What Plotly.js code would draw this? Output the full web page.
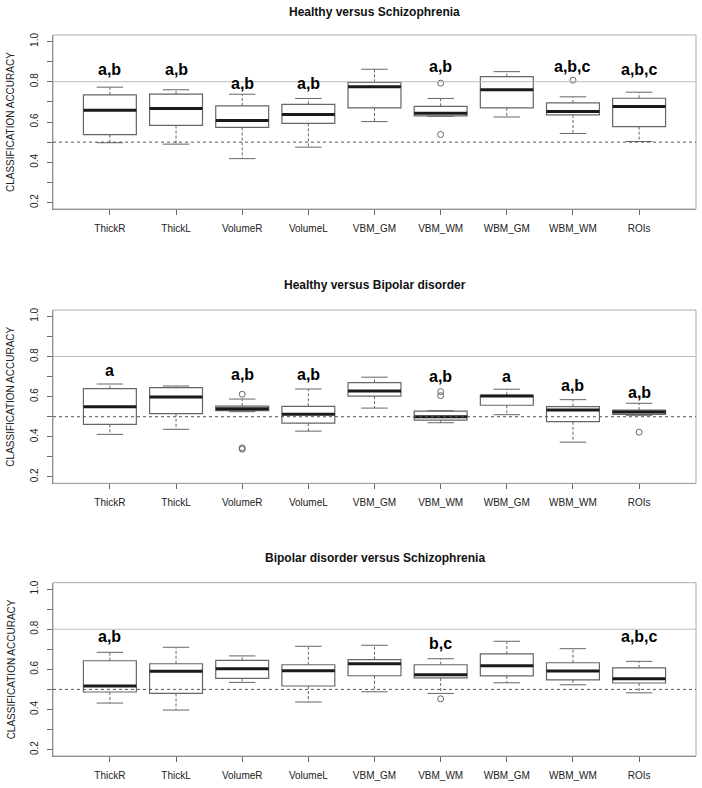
<!DOCTYPE html>
<html>
<head>
<meta charset="utf-8">
<script src="https://cdn.plot.ly/plotly-3.0.1.min.js"></script>
<style>html,body{margin:0;padding:0;background:#fff}#chart{width:702px;height:788px}</style>
</head>
<body>
<div id="chart"></div>
<script>
const categories = ['ThickR','ThickL','VolumeR','VolumeL','VBM_GM','VBM_WM','WBM_GM','WBM_WM','ROIs'];
const panelTitles = ['Healthy versus Schizophrenia','Healthy versus Bipolar disorder','Bipolar disorder versus Schizophrenia'];
const yTickVals = [0.2,0.3,0.4,0.5,0.6,0.7,0.8,0.9,1.0];
const yTickText = ['0.2','','0.4','','0.6','','0.8','','1.0'];
const chanceLevel = 0.5;
const referenceLevel = 0.8;

// Panel 1: Healthy versus Schizophrenia
const hsLower  = [0.497,0.490,0.418,0.475,0.602,0.628,0.625,0.543,0.503];
const hsQ1     = [0.537,0.583,0.573,0.593,0.670,0.630,0.670,0.635,0.577];
const hsMedian = [0.658,0.667,0.608,0.637,0.775,0.643,0.760,0.652,0.677];
const hsQ3     = [0.735,0.738,0.680,0.688,0.797,0.678,0.825,0.695,0.718];
const hsUpper  = [0.773,0.760,0.738,0.717,0.862,0.717,0.850,0.725,0.748];
const hsOutCat = ['VBM_WM','VBM_WM','WBM_WM'];
const hsOutVal = [0.793,0.538,0.808];
const hsLetters = ['a,b','a,b','a,b','a,b','','a,b','','a,b,c','a,b,c'];
const hsLetterY = [0.863,0.863,0.789,0.789,null,0.875,null,0.875,0.863];

// Panel 2: Healthy versus Bipolar disorder
const hbLower  = [0.412,0.437,0.525,0.428,0.543,0.470,0.510,0.373,0.507];
const hbQ1     = [0.462,0.515,0.530,0.468,0.603,0.483,0.557,0.475,0.512];
const hbMedian = [0.550,0.598,0.540,0.512,0.628,0.500,0.603,0.533,0.523];
const hbQ3     = [0.640,0.645,0.553,0.552,0.670,0.528,0.607,0.550,0.533];
const hbUpper  = [0.663,0.653,0.588,0.638,0.697,0.530,0.637,0.585,0.567];
const hbOutCat = ['VolumeR','VolumeR','VolumeR','VBM_WM','VBM_WM','ROIs'];
const hbOutVal = [0.612,0.345,0.338,0.625,0.605,0.423];
const hbLetters = ['a','','a,b','a,b','','a,b','a','a,b','a,b'];
const hbLetterY = [0.732,null,0.708,0.708,null,0.698,0.698,0.657,0.620];

// Panel 3: Bipolar disorder versus Schizophrenia
const bsLower  = [0.432,0.397,0.535,0.437,0.488,0.480,0.533,0.523,0.483];
const bsQ1     = [0.487,0.480,0.555,0.517,0.568,0.557,0.567,0.548,0.532];
const bsMedian = [0.517,0.590,0.603,0.593,0.628,0.573,0.618,0.592,0.553];
const bsQ3     = [0.643,0.628,0.645,0.623,0.648,0.623,0.677,0.633,0.607];
const bsUpper  = [0.685,0.710,0.667,0.715,0.720,0.653,0.740,0.703,0.640];
const bsOutCat = ['VBM_WM'];
const bsOutVal = [0.453];
const bsLetters = ['a,b','','','','','b,c','','','a,b,c'];
const bsLetterY = [0.765,null,null,null,null,0.728,null,null,0.765];

const panels = [
  {lower:hsLower,q1:hsQ1,med:hsMedian,q3:hsQ3,upper:hsUpper,outCat:hsOutCat,outVal:hsOutVal,letters:hsLetters,letterY:hsLetterY},
  {lower:hbLower,q1:hbQ1,med:hbMedian,q3:hbQ3,upper:hbUpper,outCat:hbOutCat,outVal:hbOutVal,letters:hbLetters,letterY:hbLetterY},
  {lower:bsLower,q1:bsQ1,med:bsMedian,q3:bsQ3,upper:bsUpper,outCat:bsOutCat,outVal:bsOutVal,letters:bsLetters,letterY:bsLetterY}
];

const W = 702, H = 788;
const plotLeft = 53, plotRight = 696;
const plotTops = [35, 310, 582.7], plotBottoms = [209, 483.3, 756];
const titleY = [11.7, 285, 557.7];
const BOXW = 0.8, CAPW = 0.4;
const pos = categories.map((c,i)=>i+1);

const traces = [];
const layout = {
  width: W, height: H, margin:{l:0,r:0,t:0,b:0},
  paper_bgcolor:'#fff', plot_bgcolor:'#fff', showlegend:false, boxmode:'overlay',
  font:{family:'Liberation Sans, Arial, sans-serif', color:'#222', size:10},
  shapes:[], annotations:[]
};

panels.forEach((p, k) => {
  const n = k+1;
  const xa = n===1 ? 'x' : 'x'+n, ya = n===1 ? 'y' : 'y'+n;
  const xKey = n===1 ? 'xaxis' : 'xaxis'+n, yKey = n===1 ? 'yaxis' : 'yaxis'+n;
  // whiskers (dashed)
  const wx=[], wy=[], cx=[], cy=[], mx=[], my=[];
  pos.forEach((x,i)=>{
    wx.push(x,x,null,x,x,null); wy.push(p.q3[i],p.upper[i],null,p.q1[i],p.lower[i],null);
    cx.push(x-CAPW/2,x+CAPW/2,null,x-CAPW/2,x+CAPW/2,null); cy.push(p.upper[i],p.upper[i],null,p.lower[i],p.lower[i],null);
    mx.push(x-BOXW/2,x+BOXW/2,null); my.push(p.med[i],p.med[i],null);
  });
  traces.push({type:'scatter',mode:'lines',x:wx,y:wy,xaxis:xa,yaxis:ya,line:{color:'#666',width:1,dash:'3px,2px'},hoverinfo:'skip'});
  traces.push({type:'scatter',mode:'lines',x:cx,y:cy,xaxis:xa,yaxis:ya,line:{color:'#666',width:1},hoverinfo:'skip'});
  traces.push({type:'box',x:pos,q1:p.q1,median:p.med,q3:p.q3,lowerfence:p.q1,upperfence:p.q3,
    width:BOXW,whiskerwidth:0,fillcolor:'#fff',line:{color:'#666',width:1.2},boxpoints:false,
    xaxis:xa,yaxis:ya,hoverinfo:'skip'});
  traces.push({type:'scatter',mode:'lines',x:mx,y:my,xaxis:xa,yaxis:ya,line:{color:'#1a1a1a',width:3},hoverinfo:'skip'});
  traces.push({type:'scatter',mode:'markers',x:p.outCat.map(c=>categories.indexOf(c)+1),y:p.outVal,xaxis:xa,yaxis:ya,
    marker:{symbol:'circle-open',size:6,color:'#666',line:{width:1}},hoverinfo:'skip'});

  const dom = [1-plotBottoms[k]/H, 1-plotTops[k]/H];
  layout[xKey] = {domain:[plotLeft/W, plotRight/W], range:[0.14,9.86], tickvals:pos, ticktext:categories,
    ticks:'outside', ticklen:5, tickcolor:'#666', showgrid:false, zeroline:false, showline:true, linecolor:'#777', linewidth:1,
    ticklabelstandoff:5, tickfont:{size:10,color:'#222'}, anchor:ya, fixedrange:true};
  layout[yKey] = {domain:dom, range:[0.168,1.032], tickvals:yTickVals, ticktext:yTickText, tickangle:-90,
    ticks:'outside', ticklen:5, tickcolor:'#666', showgrid:false, zeroline:false, showline:true, linecolor:'#777', linewidth:1,
    ticklabelstandoff:5, tickfont:{size:10,color:'#222'}, anchor:xa, fixedrange:true};

  layout.shapes.push({type:'rect',xref:xa+' domain',yref:ya+' domain',x0:0,x1:1,y0:0,y1:1,line:{color:'#aaa',width:1},layer:'above'});
  layout.shapes.push({type:'line',xref:xa+' domain',yref:ya,x0:0,x1:1,y0:referenceLevel,y1:referenceLevel,line:{color:'#bbb',width:1},layer:'above'});
  layout.shapes.push({type:'line',xref:xa+' domain',yref:ya,x0:0,x1:1,y0:chanceLevel,y1:chanceLevel,line:{color:'#555',width:1,dash:'dot'},layer:'above'});

  layout.annotations.push({xref:'paper',yref:'paper',x:(plotLeft+plotRight)/2/W,y:1-titleY[k]/H,xanchor:'center',yanchor:'middle',
    text:'<b>'+panelTitles[k]+'</b>',showarrow:false,font:{size:12,color:'#111'}});
  layout.annotations.push({xref:'paper',yref:'paper',x:11/W,y:(dom[0]+dom[1])/2,xanchor:'center',yanchor:'middle',textangle:-90,
    text:'CLASSIFICATION ACCURACY',showarrow:false,font:{size:10,color:'#222'}});
  p.letters.forEach((t,i)=>{
    if(!t) return;
    layout.annotations.push({xref:xa,yref:ya,x:pos[i],y:p.letterY[i],xanchor:'center',yanchor:'middle',
      text:'<b>'+t+'</b>',showarrow:false,font:{size:16,color:'#000',family:'Liberation Sans, Arial, sans-serif'}});
  });
});

Plotly.newPlot('chart', traces, layout, {displayModeBar:false, staticPlot:true});
</script>
</body>
</html>
